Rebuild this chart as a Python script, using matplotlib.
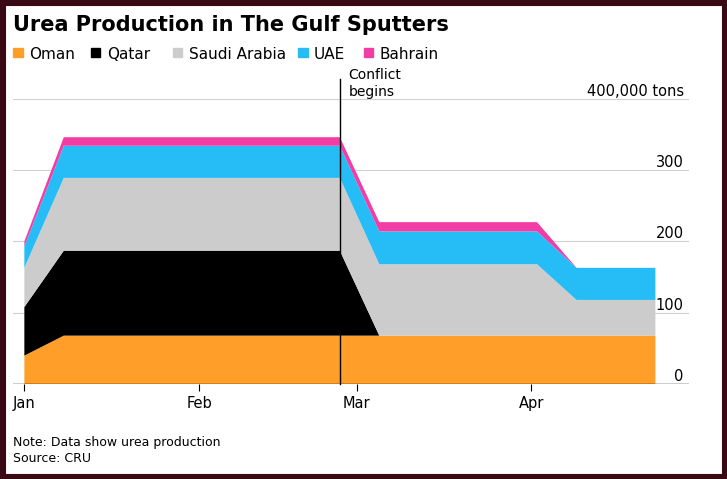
import numpy as np
import matplotlib.pyplot as plt
import matplotlib.dates as mdates
from matplotlib.patches import Rectangle
import datetime as dt

# data (thousand tons)
dates = [dt.date(2025, 1, 1), dt.date(2025, 1, 8), dt.date(2025, 2, 26),
         dt.date(2025, 3, 5), dt.date(2025, 4, 2), dt.date(2025, 4, 9),
         dt.date(2025, 4, 23)]
oman = [40, 68, 68, 68, 68, 68, 68]
qatar = [68, 119, 119, 0, 0, 0, 0]
saudi = [55, 102, 102, 100, 100, 50, 50]
uae = [30, 45, 45, 46, 46, 45, 45]
bahrain = [7, 12, 12, 13, 13, 0, 0]
names = ['Oman', 'Qatar', 'Saudi Arabia', 'UAE', 'Bahrain']
colors = ['#ff9f2a', '#000000', '#cccccc', '#26bdf7', '#f23ca6']
conflict = dt.date(2025, 2, 26)

fig = plt.figure(figsize=(7.27, 4.79), dpi=100)
fig.patch.set_facecolor('white')
fig.add_artist(Rectangle((0, 0), 1, 1, transform=fig.transFigure, fill=False,
                         edgecolor='#3a0a14', linewidth=8))
ax = fig.add_axes([0.018, 0.198, 0.93, 0.596])

x = mdates.date2num(dates)
ax.stackplot(x, oman, qatar, saudi, uae, bahrain, colors=colors, linewidth=0)

ax.set_ylim(0, 400)
ax.set_xlim(mdates.date2num(dt.date(2024, 12, 30)), mdates.date2num(dt.date(2025, 4, 29)))
for v in [100, 200, 300, 400]:
    ax.axhline(v, color='#d0d0d0', linewidth=0.8, zorder=0)
ax.axhline(0, color='black', linewidth=1)
ax.axvline(mdates.date2num(conflict), ymin=0, ymax=1.07, color='black', linewidth=1, clip_on=False)
ax.text(mdates.date2num(conflict) + 1.5, 400, 'Conflict\nbegins', fontsize=10, va='bottom', ha='left')

for s in ax.spines.values():
    s.set_visible(False)
ax.yaxis.tick_right()
ax.set_yticks([0, 100, 200, 300, 400])
ax.set_yticklabels(['0', '100', '200', '300', '400,000 tons'])
ax.tick_params(axis='y', length=0, pad=-4, labelsize=10.5)
for lab in ax.get_yticklabels():
    lab.set_horizontalalignment('right')
    lab.set_verticalalignment('bottom')
ax.set_xticks(mdates.date2num([dt.date(2025, m, 1) for m in [1, 2, 3, 4]]))
ax.set_xticklabels(['Jan', 'Feb', 'Mar', 'Apr'])
ax.tick_params(axis='x', length=5, labelsize=10.5)

fig.text(0.018, 0.935, 'Urea Production in The Gulf Sputters', fontsize=15, fontweight='bold')
xpos = [0.018, 0.125, 0.238, 0.41, 0.5]
for xp, n, c in zip(xpos, names, colors):
    fig.add_artist(Rectangle((xp, 0.88), 0.013, 0.02, transform=fig.transFigure, color=c))
    fig.text(xp + 0.022, 0.877, n, fontsize=11)
fig.text(0.018, 0.035, 'Note: Data show urea production\nSource: CRU', fontsize=9, linespacing=1.3)

fig.savefig('out.png', dpi=100)
